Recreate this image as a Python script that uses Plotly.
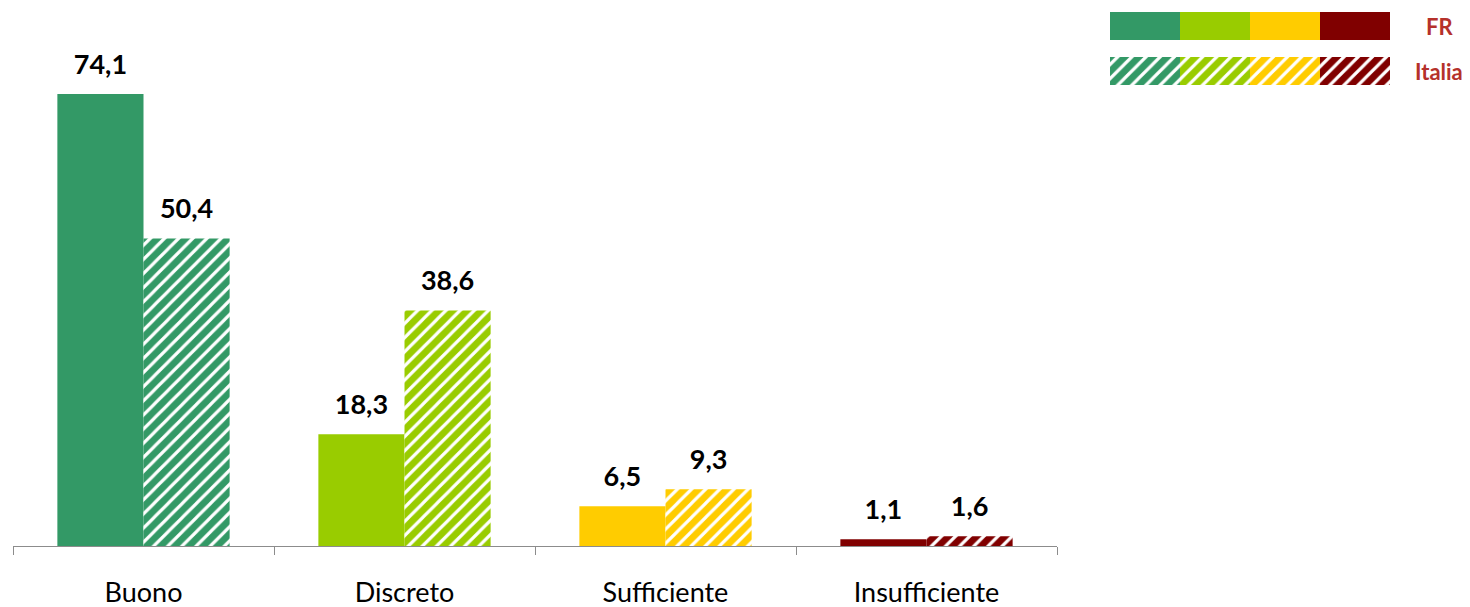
import plotly.graph_objects as go

categories = ["Buono", "Discreto", "Sufficiente", "Insufficiente"]
fr_values = [74.1, 18.3, 6.5, 1.1]
italia_values = [50.4, 38.6, 9.3, 1.6]
colors = ["#339966", "#99CC00", "#FFCC00", "#800000"]
legend_rows = ["FR", "Italia"]
legend_segments = [1, 1, 1, 1]

# page has an 8px body margin; figure is sized to fit the window
OFF = 8
W, H = 1470 - OFF, 607 - OFF
ml, mr, mt, mb = 13 - OFF, 10, 0, 61
pw = W - ml - mr
ph = H - mt - mb
GAP = 0.34

def fmt(v):
    return f"{v:.1f}".replace(".", ",")

def px_x(x):
    return (x - OFF - ml) / pw

def px_y(y):
    return (H - mb - (y - OFF)) / ph

FONT = "Lato, Open Sans, sans-serif"
label_font = dict(family=FONT, size=27, color="black")

def hatch():
    return dict(shape="/", fgcolor="white", bgcolor=colors, size=10,
                solidity=0.32, fillmode="replace")

fig = go.Figure()
fig.add_trace(go.Bar(x=categories, y=fr_values, name="FR",
                     marker=dict(color=colors, line=dict(width=0)),
                     hoverinfo="skip"))
fig.add_trace(go.Bar(x=categories, y=italia_values, name="Italia",
                     marker=dict(color="white", line=dict(width=0), pattern=hatch()),
                     hoverinfo="skip"))

# value labels (grouped scatter so they sit above each bar)
for name, vals in [("FR", fr_values), ("Italia", italia_values)]:
    fig.add_trace(go.Scatter(
        x=categories, y=vals, mode="markers+text", name=name + " labels",
        text=[f"<b>{fmt(v)}</b>" for v in vals], textposition="top center",
        textfont=label_font, marker=dict(size=20, opacity=0),
        cliponaxis=False, hoverinfo="skip", showlegend=False,
    ))

# custom legend swatches drawn as horizontal stacked bars
bases = [sum(legend_segments[:i]) for i in range(len(legend_segments))]
fig.add_trace(go.Bar(
    y=[legend_rows[0]] * 4, x=legend_segments, base=bases, orientation="h",
    marker=dict(color=colors, line=dict(width=0)),
    xaxis="x2", yaxis="y2", offsetgroup="leg", width=0.62,
    hoverinfo="skip", showlegend=False,
))
fig.add_trace(go.Bar(
    y=[legend_rows[1]] * 4, x=legend_segments, base=bases, orientation="h",
    marker=dict(color="white", line=dict(width=0), pattern=hatch()),
    xaxis="x2", yaxis="y2", offsetgroup="leg", width=0.62,
    hoverinfo="skip", showlegend=False,
))

for row in legend_rows:
    fig.add_annotation(
        x=px_x(1439), xref="paper", y=row, yref="y2",
        text=f"<b>{row}</b>", showarrow=False, xanchor="center",
        font=dict(family=FONT, size=22, color="#B5312B"),
    )

fig.update_layout(
    width=W, height=H,
    margin=dict(l=ml, r=mr, t=mt, b=mb, autoexpand=False),
    plot_bgcolor="white", paper_bgcolor="white",
    barmode="group", bargap=GAP, bargroupgap=0,
    scattermode="group", scattergap=GAP,
    showlegend=False,
    xaxis=dict(
        domain=[0, px_x(1057)], automargin=False,
        showline=True, linecolor="#8C8C8C", linewidth=1,
        ticks="outside", tickson="boundaries", ticklen=8, tickcolor="#8C8C8C",
        tickfont=dict(family=FONT, size=27, color="black"),
        ticklabelstandoff=23,
        showgrid=False, zeroline=False,
    ),
    yaxis=dict(
        range=[0, ph / 6.1], visible=False, showgrid=False, zeroline=False,
        automargin=False,
    ),
    xaxis2=dict(
        domain=[px_x(1110), px_x(1390)], range=[0, 4], anchor="y2",
        visible=False, showgrid=False, zeroline=False,
    ),
    yaxis2=dict(
        domain=[px_y(93.5), px_y(8)], anchor="x2", range=[-0.5, 1.4],
        categoryorder="array", categoryarray=legend_rows[::-1],
        visible=False, showgrid=False, zeroline=False,
    ),
)

fig.write_html("out.html")
